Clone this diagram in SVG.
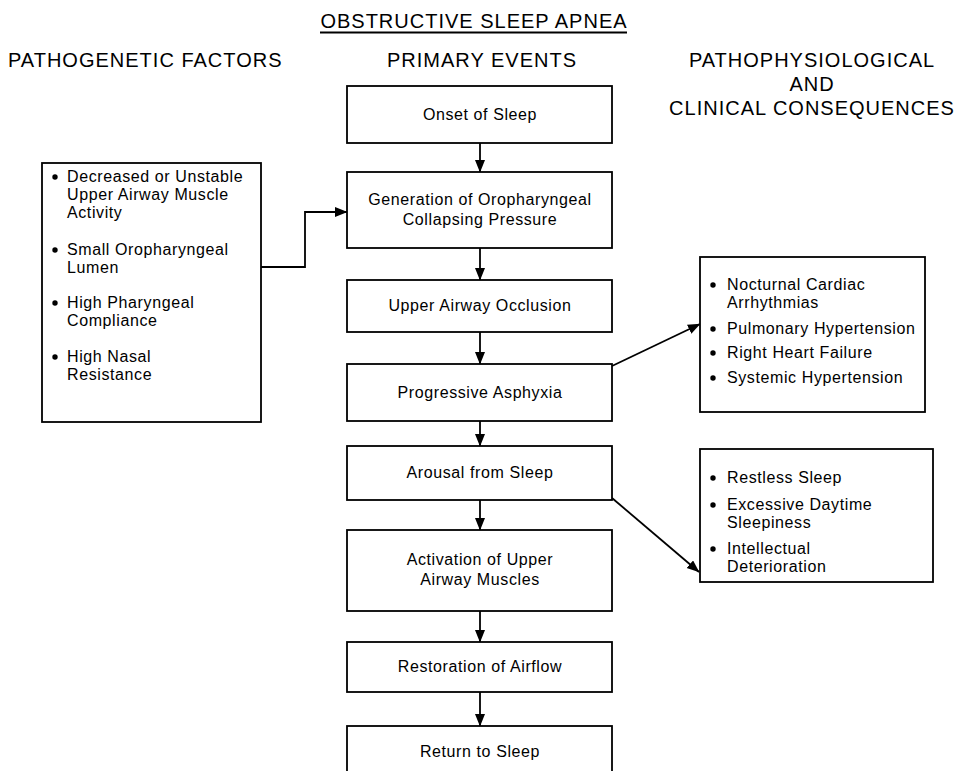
<svg xmlns="http://www.w3.org/2000/svg" width="966" height="771" viewBox="0 0 966 771">
<defs>
<marker id="ah" markerWidth="13" markerHeight="11" refX="12" refY="5" orient="auto" markerUnits="userSpaceOnUse">
<path d="M0,0 L12.5,5 L0,10 z" fill="#000"/>
</marker>
<style>
.box{fill:#fff;stroke:#000;stroke-width:1.8}
.hd{font-family:"Liberation Sans",Arial,sans-serif;font-size:20px;letter-spacing:1px;fill:#000}
.t{font-family:"Liberation Sans",Arial,sans-serif;font-size:16px;letter-spacing:0.6px;fill:#000}
.c{text-anchor:middle}
.ln{fill:none;stroke:#000;stroke-width:1.8}
.ar{fill:none;stroke:#000;stroke-width:1.8;marker-end:url(#ah)}
</style>
</defs>
<rect width="966" height="771" fill="#fff"/>
<g id="headers">
<text class="hd c" x="474" y="28">OBSTRUCTIVE SLEEP APNEA</text>
<line class="ln" x1="320" y1="32.5" x2="627" y2="32.5" stroke-width="1.3"/>
<text class="hd" x="8" y="67">PATHOGENETIC FACTORS</text>
<text class="hd c" x="482" y="67">PRIMARY EVENTS</text>
<text class="hd c" x="812" y="67">PATHOPHYSIOLOGICAL</text>
<text class="hd c" x="812" y="91">AND</text>
<text class="hd c" x="812" y="115">CLINICAL CONSEQUENCES</text>
</g>
<g id="connectors">
<line class="ar" x1="480" y1="143" x2="480" y2="172"/>
<line class="ar" x1="480" y1="248" x2="480" y2="280"/>
<line class="ar" x1="480" y1="332" x2="480" y2="364"/>
<line class="ar" x1="480" y1="421" x2="480" y2="446"/>
<line class="ar" x1="480" y1="500" x2="480" y2="530"/>
<line class="ar" x1="480" y1="611" x2="480" y2="642"/>
<line class="ar" x1="480" y1="692" x2="480" y2="726"/>
<polyline class="ar" points="261,267 305,267 305,212 347,212"/>
<line class="ar" x1="612" y1="366" x2="700" y2="324"/>
<line class="ar" x1="612" y1="498" x2="699" y2="572"/>
</g>
<g id="onset">
<rect class="box" x="347" y="86" width="265" height="57"/>
<text class="t c" x="480" y="120">Onset of Sleep</text>
</g>
<g id="generation">
<rect class="box" x="347" y="172" width="265" height="76"/>
<text class="t c" x="480" y="205">Generation of Oropharyngeal</text>
<text class="t c" x="480" y="225">Collapsing Pressure</text>
</g>
<g id="occlusion">
<rect class="box" x="347" y="280" width="265" height="52"/>
<text class="t c" x="480" y="311">Upper Airway Occlusion</text>
</g>
<g id="asphyxia">
<rect class="box" x="347" y="364" width="265" height="57"/>
<text class="t c" x="480" y="398">Progressive Asphyxia</text>
</g>
<g id="arousal">
<rect class="box" x="347" y="446" width="265" height="54"/>
<text class="t c" x="480" y="478">Arousal from Sleep</text>
</g>
<g id="activation">
<rect class="box" x="347" y="530" width="265" height="81"/>
<text class="t c" x="480" y="565">Activation of Upper</text>
<text class="t c" x="480" y="585">Airway Muscles</text>
</g>
<g id="restoration">
<rect class="box" x="347" y="642" width="265" height="50"/>
<text class="t c" x="480" y="672">Restoration of Airflow</text>
</g>
<g id="return">
<rect class="box" x="347" y="726" width="265" height="70"/>
<text class="t c" x="480" y="757">Return to Sleep</text>
</g>
<g id="factors">
<rect class="box" x="42" y="163" width="219" height="259"/>
<circle cx="55" cy="177" r="2.7"/>
<text class="t" x="67" y="182">Decreased or Unstable</text>
<text class="t" x="67" y="200">Upper Airway Muscle</text>
<text class="t" x="67" y="218">Activity</text>
<circle cx="55" cy="250" r="2.7"/>
<text class="t" x="67" y="255">Small Oropharyngeal</text>
<text class="t" x="67" y="273">Lumen</text>
<circle cx="55" cy="303" r="2.7"/>
<text class="t" x="67" y="308">High Pharyngeal</text>
<text class="t" x="67" y="326">Compliance</text>
<circle cx="55" cy="357" r="2.7"/>
<text class="t" x="67" y="362">High Nasal</text>
<text class="t" x="67" y="380">Resistance</text>
</g>
<g id="cardio">
<rect class="box" x="700" y="257" width="225" height="155"/>
<circle cx="713" cy="285" r="2.7"/>
<text class="t" x="727" y="290">Nocturnal Cardiac</text>
<text class="t" x="727" y="308">Arrhythmias</text>
<circle cx="713" cy="329" r="2.7"/>
<text class="t" x="727" y="334">Pulmonary Hypertension</text>
<circle cx="713" cy="353" r="2.7"/>
<text class="t" x="727" y="358">Right Heart Failure</text>
<circle cx="713" cy="378" r="2.7"/>
<text class="t" x="727" y="383">Systemic Hypertension</text>
</g>
<g id="neuro">
<rect class="box" x="700" y="449" width="233" height="133"/>
<circle cx="713" cy="478" r="2.7"/>
<text class="t" x="727" y="483">Restless Sleep</text>
<circle cx="713" cy="505" r="2.7"/>
<text class="t" x="727" y="510">Excessive Daytime</text>
<text class="t" x="727" y="528">Sleepiness</text>
<circle cx="713" cy="549" r="2.7"/>
<text class="t" x="727" y="554">Intellectual</text>
<text class="t" x="727" y="572">Deterioration</text>
</g>
</svg>
